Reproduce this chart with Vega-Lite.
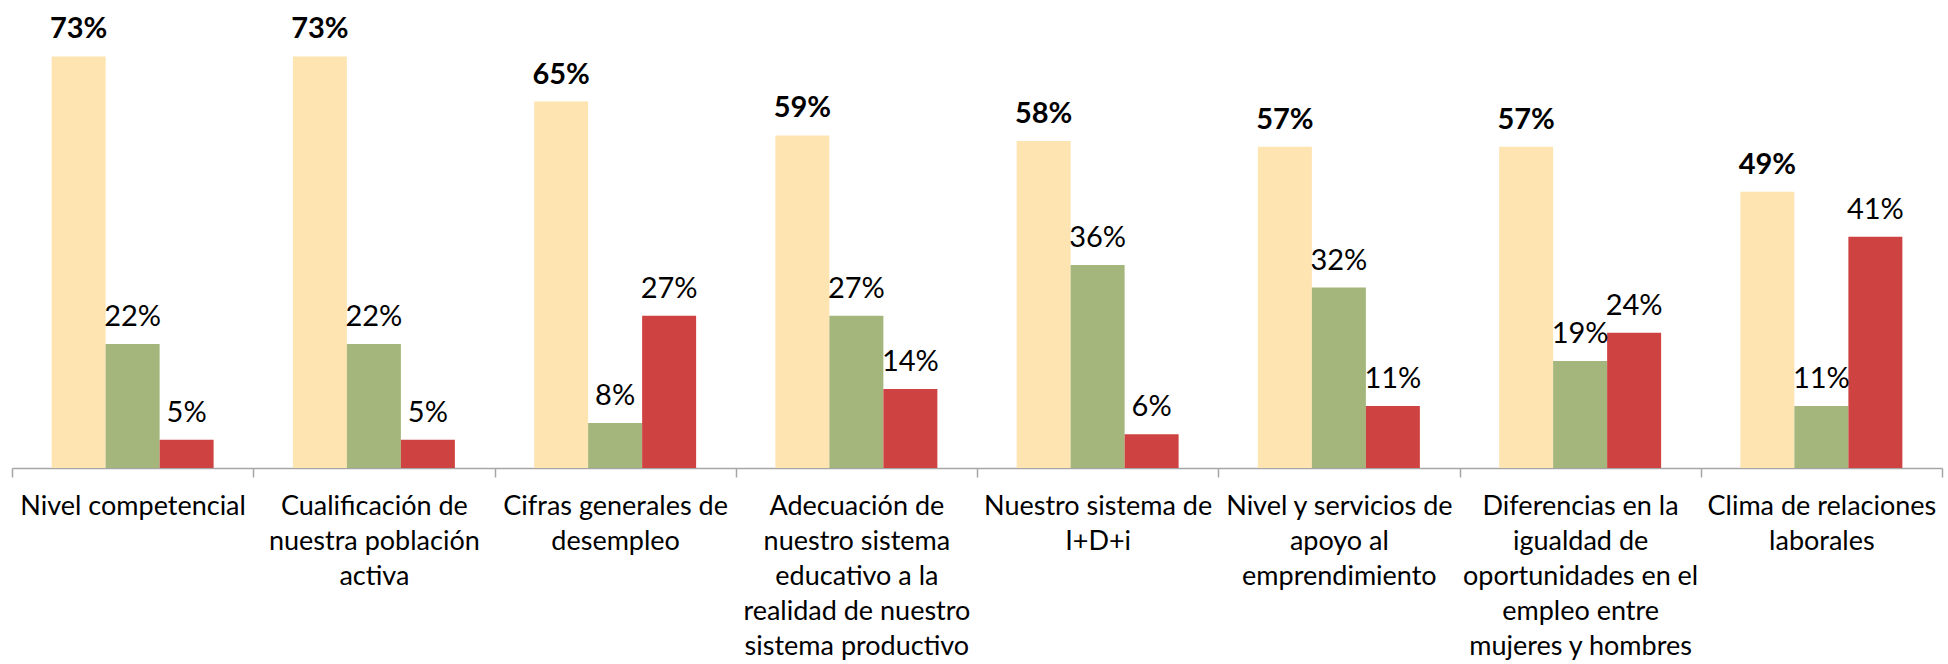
{
  "$schema": "https://vega.github.io/schema/vega-lite/v6.json",
  "autosize": {"type": "none"},
  "width": 1930,
  "height": 451,
  "padding": {"left": 12, "top": 17, "right": 6, "bottom": 196},
  "config": {"view": {"stroke": null}, "font": "Lato"},
  "data": {"values": [
    {"cat": "Nivel competencial", "serie": "A", "v": 0.73},
    {"cat": "Nivel competencial", "serie": "B", "v": 0.22},
    {"cat": "Nivel competencial", "serie": "C", "v": 0.05},
    {"cat": "Cualificación de|nuestra población|activa", "serie": "A", "v": 0.73},
    {"cat": "Cualificación de|nuestra población|activa", "serie": "B", "v": 0.22},
    {"cat": "Cualificación de|nuestra población|activa", "serie": "C", "v": 0.05},
    {"cat": "Cifras generales de|desempleo", "serie": "A", "v": 0.65},
    {"cat": "Cifras generales de|desempleo", "serie": "B", "v": 0.08},
    {"cat": "Cifras generales de|desempleo", "serie": "C", "v": 0.27},
    {"cat": "Adecuación de|nuestro sistema|educativo a la|realidad de nuestro|sistema productivo", "serie": "A", "v": 0.59},
    {"cat": "Adecuación de|nuestro sistema|educativo a la|realidad de nuestro|sistema productivo", "serie": "B", "v": 0.27},
    {"cat": "Adecuación de|nuestro sistema|educativo a la|realidad de nuestro|sistema productivo", "serie": "C", "v": 0.14},
    {"cat": "Nuestro sistema de|I+D+i", "serie": "A", "v": 0.58},
    {"cat": "Nuestro sistema de|I+D+i", "serie": "B", "v": 0.36},
    {"cat": "Nuestro sistema de|I+D+i", "serie": "C", "v": 0.06},
    {"cat": "Nivel y servicios de|apoyo al|emprendimiento", "serie": "A", "v": 0.57},
    {"cat": "Nivel y servicios de|apoyo al|emprendimiento", "serie": "B", "v": 0.32},
    {"cat": "Nivel y servicios de|apoyo al|emprendimiento", "serie": "C", "v": 0.11},
    {"cat": "Diferencias en la|igualdad de|oportunidades en el|empleo entre|mujeres y hombres", "serie": "A", "v": 0.57},
    {"cat": "Diferencias en la|igualdad de|oportunidades en el|empleo entre|mujeres y hombres", "serie": "B", "v": 0.19},
    {"cat": "Diferencias en la|igualdad de|oportunidades en el|empleo entre|mujeres y hombres", "serie": "C", "v": 0.24},
    {"cat": "Clima de relaciones|laborales", "serie": "A", "v": 0.49},
    {"cat": "Clima de relaciones|laborales", "serie": "B", "v": 0.11},
    {"cat": "Clima de relaciones|laborales", "serie": "C", "v": 0.41}
  ]},
  "encoding": {
    "x": {
      "field": "cat", "type": "nominal", "sort": null, "title": null,
      "scale": {"paddingInner": 0, "paddingOuter": 0},
      "axis": {
        "labelExpr": "split(datum.label, '|')",
        "labelAngle": 0,
        "labelFont": "Lato",
        "labelFontSize": 27,
        "labelColor": "#000000",
        "labelLineHeight": 35,
        "labelPadding": 16,
        "labelLimit": 400,
        "labelOverlap": false,
        "labelBound": false,
        "tickBand": "extent",
        "tickSize": 9,
        "tickColor": "#a6a6a6",
        "tickWidth": 1.5,
        "domainColor": "#a6a6a6",
        "domainWidth": 1.5
      }
    },
    "xOffset": {"field": "serie", "type": "nominal", "scale": {"paddingInner": 0, "paddingOuter": 0.734}},
    "y": {"field": "v", "type": "quantitative", "scale": {"domain": [0, 0.8]}, "axis": null}
  },
  "layer": [
    {
      "mark": {"type": "bar"},
      "encoding": {
        "color": {
          "field": "serie", "type": "nominal", "legend": null,
          "scale": {"domain": ["A", "B", "C"], "range": ["#FEE4B1", "#A4B67B", "#CF4242"]}
        }
      }
    },
    {
      "transform": [{"filter": "datum.serie == 'A'"}],
      "mark": {"type": "text", "baseline": "alphabetic", "dy": -18, "fontSize": 29, "fontWeight": "bold", "font": "Lato", "color": "#000000"},
      "encoding": {"text": {"field": "v", "type": "quantitative", "format": ".0%"}}
    },
    {
      "transform": [{"filter": "datum.serie != 'A'"}],
      "mark": {"type": "text", "baseline": "alphabetic", "dy": -18, "fontSize": 29, "font": "Lato", "color": "#000000"},
      "encoding": {"text": {"field": "v", "type": "quantitative", "format": ".0%"}}
    }
  ]
}
